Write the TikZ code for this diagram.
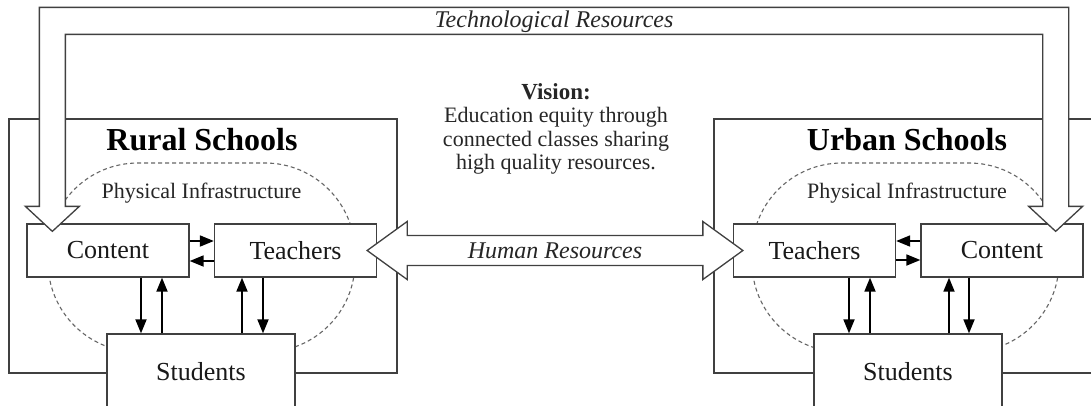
\documentclass[tikz,border=0pt]{standalone}
\usepackage{fontspec}
\setmainfont{Liberation Serif}
\usetikzlibrary{arrows.meta,calc}
\begin{document}
\begin{tikzpicture}[x=1pt,y=-1pt,
  ln/.style={draw=black!75,line width=1.3pt},
  box/.style={ln,fill=white,minimum width=162pt,minimum height=53pt,inner sep=0pt,text=black!90,font=\fontsize{26}{30}\selectfont},
  sbox/.style={box,minimum width=188pt,minimum height=76pt},
  infra/.style={draw=black!60,line width=1.1pt,dash pattern=on 4pt off 3pt,rounded corners=90pt},
  sa/.style={draw=black,line width=1.8pt,-{Triangle[length=14pt,width=11pt]}},
  big/.style={ln,fill=white,line join=miter},
  title/.style={text=black,font=\fontsize{32}{36}\selectfont\bfseries},
  body/.style={text=black!85,font=\fontsize{22}{23.5}\selectfont},
  ital/.style={text=black!85,font=\fontsize{24}{28}\selectfont\itshape}
]
\useasboundingbox (0,0) rectangle (1091,405);
\clip (0,0) rectangle (1091,405);
\fill[white] (0,0) rectangle (1091,405);

% outer school boxes
\draw[ln] (9,119) rectangle (397,373);
\draw[ln] (714,119) rectangle (1100,373);

% physical infrastructure outlines
\draw[infra] (48,163) rectangle (355,352);
\draw[infra] (752,163) rectangle (1059,352);

% rural nodes
\node[box] (lc) at (108,250.5) {Content};
\node[box] (lt) at (295.5,250.5) {Teachers};
\node[sbox] (ls) at (201,372) {Students};
% urban nodes
\node[box] (ut) at (814.5,250.5) {Teachers};
\node[box] (uc) at (1002,250.5) {Content};
\node[sbox] (us) at (908,372) {Students};

% rural small arrows
\draw[sa] (lc.east |- 0,241) -- (lt.west |- 0,241);
\draw[sa] (lt.west |- 0,261) -- (lc.east |- 0,261);
\draw[sa] (lc.south -| 141,0) -- (ls.north -| 141,0);
\draw[sa] (ls.north -| 162,0) -- (lc.south -| 162,0);
\draw[sa] (ls.north -| 242,0) -- (lt.south -| 242,0);
\draw[sa] (lt.south -| 263,0) -- (ls.north -| 263,0);
% urban small arrows
\draw[sa] (uc.west |- 0,241) -- (ut.east |- 0,241);
\draw[sa] (ut.east |- 0,260) -- (uc.west |- 0,260);
\draw[sa] (ut.south -| 849,0) -- (us.north -| 849,0);
\draw[sa] (us.north -| 870,0) -- (ut.south -| 870,0);
\draw[sa] (us.north -| 949,0) -- (uc.south -| 949,0);
\draw[sa] (uc.south -| 969,0) -- (us.north -| 969,0);

% human resources double arrow
\coordinate (hL) at ($(lt.east)+(-10,0)$);
\coordinate (hR) at ($(ut.west)+(10,0)$);
\draw[big] (hL) -- ++(40,-29) -- ++(0,14) -- ($(hR)+(-40,-15)$) -- ++(0,-14) -- (hR)
  -- ++(-40,29) -- ++(0,-14) -- ($(hL)+(40,15)$) -- ++(0,14) -- cycle;
\node[ital] (hr) at ($(hL)!0.5!(hR)$) {Human Resources};

% technological resources U-arrow
\coordinate (tL) at ($(lc.north west)+(26,8)$);
\coordinate (tR) at ($(uc.north east)+(-28,8)$);
\draw[big] (tL) -- ++(27,-25) -- ++(-14,0) -- ($(tL)+(13,-197)$) -- ($(tR)+(-13,-197)$)
  -- ($(tR)+(-13,-25)$) -- ++(-14,0) -- (tR) -- ++(27,-25) -- ++(-14,0)
  -- ($(tR)+(13,-224)$) -- ($(tL)+(-13,-224)$) -- ($(tL)+(-13,-25)$) -- ++(-14,0) -- cycle;
\node[ital] (tech) at (554,21.5) {Technological Resources};

% titles and labels
\node[title] (rs) at (202,140) {Rural Schools};
\node[title] (us2) at (907,140) {Urban Schools};
\node[body] (pl) at (201.5,193) {Physical Infrastructure};
\node[body] (pu) at (907,193) {Physical Infrastructure};
\node[body,align=center] (vis) at (556,129) {{\bfseries\fontsize{23}{23.5}\selectfont Vision:}\\Education equity through\\connected classes sharing\\high quality resources.};
\end{tikzpicture}
\end{document}
